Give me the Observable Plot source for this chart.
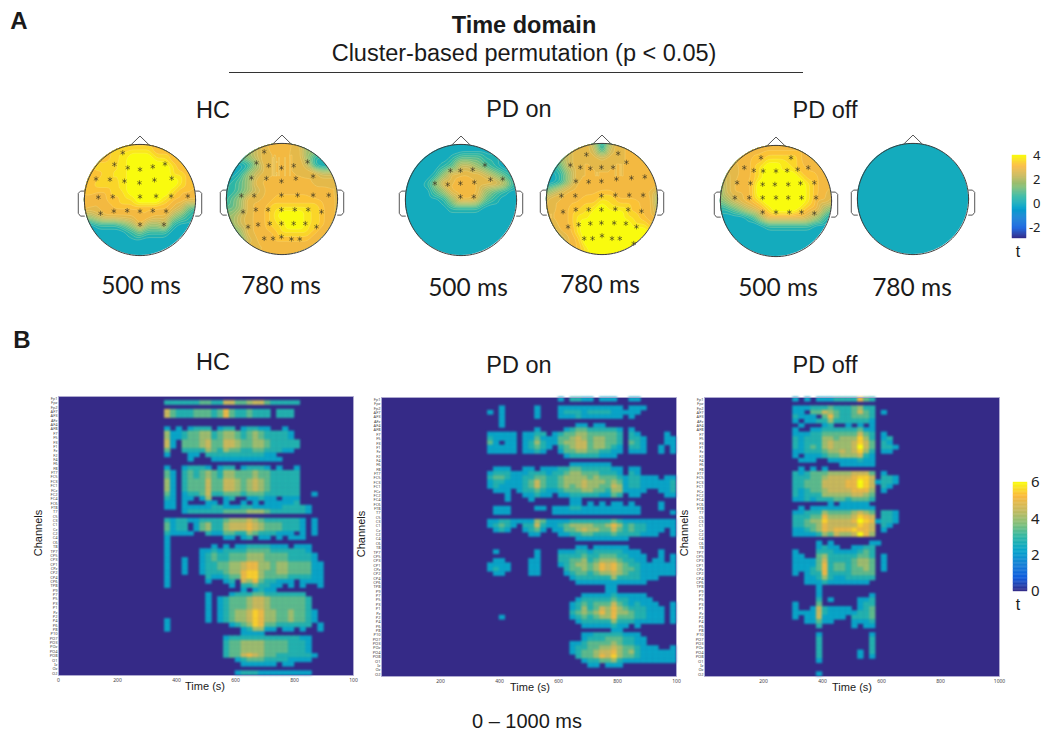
<!DOCTYPE html>
<html><head><meta charset="utf-8">
<script src="https://cdn.jsdelivr.net/npm/d3@7"></script>
<script src="https://cdn.jsdelivr.net/npm/@observablehq/plot@0.6"></script>
<style>
html,body{margin:0;padding:0;background:#fff;}
#page{position:relative;width:1041px;height:733px;overflow:hidden;font-family:"Liberation Sans",Arial,sans-serif;color:#1a1a1a;}
.abs{position:absolute;width:max-content;}
.lab{position:absolute;transform:translate(-50%,-50%);white-space:nowrap;line-height:1;}
svg{display:block;overflow:visible;background:transparent;max-width:none!important;}
</style></head><body><div id="page"></div>
<script>
// ---------- shared colour scale (parula) ----------
const parulaStops = [0,.125,.25,.375,.5,.625,.75,.875,1];
const parula = ["#352a87","#0f5cdd","#1481d6","#06a4ca","#2eb7a4","#87bf77","#c8b95c","#fbb93c","#f9fb0e"];

// ---------- B: channels (top to bottom) ----------
const channels = ["Fp1","Fpz","Fp2","AF7","AF3","AFz","AF4","AF8","F7","F5","F3","F1","Fz","F2","F4","F6","F8",
"FT7","FC5","FC3","FC1","FCz","FC2","FC4","FC6","FT8","T7","C5","C3","C1","Cz","C2","C4","C6","T8",
"TP7","CP5","CP3","CP1","CPz","CP2","CP4","CP6","TP8","P9","P7","P5","P3","P1","Pz","P2","P4","P6","P8","P10",
"PO7","PO3","POz","PO4","PO8","O1","Iz","Oz","O2"];
// level digit -> t value
const tLevels = {"0":0,"3":2.3,"4":2.8,"5":3.4,"6":4,"7":4.5,"8":5,"9":5.5,"a":6};
const binMs = 20;

// rows are "offset:digits", offset = leading empty bins; "" = an empty channel
const hcStart = 360;
const hcRows = ["",
"44444455447755677544444","",
"75444555458544544404440","75444555458544544404440","","",
"303034440344034433003",
"6334556645665456544443","6334556645665456544443",
"73055567557765566544444","73055567557765566544444",
"5004444654655445544433",
"3000330444444444433",
"4:3000333333333333","",
"30034443034403444303003",
"53045456546655565544444","53045456546655565544444",
"63045557557765676544444","63045557557765676544444","63045557557765676544444",
"53034457445554555444444003",
"43033036003400334330333",
"33030003303003030333334",
"3303333344333443333344443",
"3:3444444555566654444443","",
"43443344445666765444444303",
"53440356446777876555444303","53440356446777876555444303",
"43333004335544654443330303",
"300000000033034033030333",
"3",
"3000000030303344443330333",
"3000003343444455554444443",
"30000034544555666555544443",
"30030034544555666555544443",
"300300344556678866566555533","300300344556678866566555533",
"300300344456689965566555533",
"300000043345589965555444433",
"300000030034076854433303333",
"300000000003044544330303003",
"13:303433",
"7:30003444554444444",
"7:303455567765555554","7:303455567765555554","7:303455567765555554",
"7:3034566798665565543","7:3034566798665565543",
"30000003034566798665565543",
"300000000003456985544444403",
"300000000000034663303303003",
"13:3333",
"10:344444444444433",
"10:455666655554443","10:455666655554443","10:455666655554443",
"10:4557876554444443",
"12:3455544443333",
"13:333333033","",
"12:3444333333333"];

const onStart = 360;
const onRows = [
"12:30443303330033","",
"003000003000333333333330333",
"30300000300034443444433333",
"0030000030003334333333303",
"003",
"00300000000000033033",
"8:30000345544444303",
"3333303344034556655555404300003",
"43333033533355676566554044300033",
"53033034643356677566554054300033",
"33333034543045677566543044300303",
"33333033430035566554433033300303",
"13:344444333","",
"14:3333333",
"03330033033344554444433033",
"34443334443445665554443043",
"45543344554456666565554344333033",
"34433345754456667666565344333334",
"34333345754456567665576344333334",
"03330344543345556655466333300334",
"00030033433033444443354033000033",
"00030003000000330",
"14:3303030330300003",
"033300003303334433333333330003",
"03330000000333333333333333000003","",
"33443333653333444444454333333333",
"34543044743345666655686454433333",
"03430034530335567665575454433303",
"7:3300033445544454444333003",
"15:333333333","",
"15:330333333",
"030000003000333443444443330003",
"8:300044445445554433300303",
"03300003300044556456665443303303",
"33330003300034566568786544333333",
"34330003300004556568786554333333",
"03300003300003455456676544333333",
"14:344444464444333",
"15:333333333333",
"20:33","20:33",
"16:33333433333",
"15:3444445443333",
"14:345455575434333003",
"14:346457686544433303",
"14:456568686654433303",
"00300000000000345456685554433303",
"15:34444464443333303",
"16:3333343303",
"21:33",
"16:3344444333",
"16:34445554433",
"14:3345555654433",
"14:344556676554333003",
"14:345567786564333333",
"15:45568796554333333",
"16:3445564333333333",
"17:330333","",""];

const offStart = 300;
const offRows = [
"303033344448540","",
"33344454445644",
"3305576544575403",
"43330585445554",
"30334464444443",
"03000340030303",
"30033444444533",
"3334455555575403",
"43444665666964034",
"43444676667975043",
"43454676667a750443",
"33444566767964033",
"30333455666743",
"03330033333433",
"8:333333",
"030303",
"4345556666777503",
"444556777789970443",
"44555777788a973443",
"44555777788a97043",
"4345567777888603",
"43444666667765",
"33434445545554",
"00000030333330",
"03033333333333",
"334446555567650443",
"444558666679870443",
"44566977778a983443",
"44556877777987043",
"3345687888988703",
"33334657667a86",
"",
"4:30300000033",
"4:3433003344",
"30004443333454",
"3300564444455403",
"3333574444566503",
"3333584554566503",
"3334584554556503",
"30344844445555",
"00334643344444",
"00333433333330",
"00003",
"00003",
"00003000000003",
"00004030000334",
"30005000000344",
"30037433330345",
"33337433333445",
"30337333304445",
"00335330003334",
"00004000003033",
"",
"00003000000003",
"00004000000004","00004000000004","00004000000004",
"00004000000304",
"00004000000303",
"00003",
"","",
"00003"];

// ---------- A: scalp maps, 15 x 15 grids, one digit per level ----------
const hc500 = ["666666666666666","666677777666666","666677888776666","667777888887666","666777888887766","667777888888766","666677888887666",
"665667788876655","655666666665421","434555566553210","001112353341000","000000121110000","000000000000000","000000000000000","000000000000000"];
const hc780 = ["333345666432222","223345555533333","112345555531123","000135555541013","001345555555444","112355555555555","112345666665555",
"123555666666655","223556777777655","334556788877655","334556778877655","113556677776555","112455666665555","555555555555555","555555555555555"];
const on500 = ["000000000000000","000000000000000","000000122211000","000001244321000","000013555543210","000135565555420","000023566532100",
"000001355421000","000000111100000","000000000000000","000000000000000","000000000000000","000000000000000","000000000000000","000000000000000"];
const on780 = ["333445303555555","333455414555555","223455545555555","112455555555555","001355555555655","001355555555665","234556666555554",
"455666677666652","555667787776653","555677888877655","555678888887766","335578888888877","113568888888888","235567888888888","235567888888888"];
const off500 = ["555555555555555","555566666665555","555566777765555","555567887766655","445567888876655","345668888887655","245568888887655",
"234567888887554","112345788876532","000013555554310","000000111111000","000000000000000","000000000000000","000000000000000","000000000000000"];
const off780 = Array(15).fill("000000000000000");

const hc500E = [[-.31,.85],[-.46,.64],[-.22,.58],[0,.55],[.23,.6],[.45,.65],[-.79,.38],[-.54,.37],[-.28,.34],[-.01,.31],[.26,.36],[.57,.39],[-.75,.05],[-.49,.06],[0,.06],[.29,.07],[.56,.07],[.86,.07],[-.71,-.24],[-.47,-.2],[-.23,-.19],[0,-.2],[.23,-.19],[.47,-.2],[0,-.44],[.43,-.44]];
const hc780E = [[-.32,.85],[-.46,.65],[-.24,.6],[-.01,.56],[.21,.6],[.46,.67],[-.55,.38],[-.28,.37],[-.01,.32],[.25,.37],[.56,.41],[-.73,.06],[-.5,.06],[-.01,.07],[.28,.07],[.56,.07],[.84,.07],[-.7,-.23],[-.47,-.19],[-.25,-.19],[-.01,-.19],[.23,-.19],[.47,-.19],[.71,-.23],[-.61,-.5],[-.43,-.46],[-.22,-.44],[-.01,-.44],[.21,-.44],[.42,-.44],[.62,-.5],[-.32,-.71],[-.16,-.71],[-.01,-.68],[.17,-.72],[.32,-.72]];
const on500E = [[-.19,.53],[-.01,.53],[.21,.55],[.43,.63],[-.47,.3],[-.24,.28],[-.01,.3],[.24,.32],[.53,.37],[.75,.38],[-.01,.06],[.23,.06]];
const on780E = [[-.28,.8],[.29,.82],[-.57,.61],[-.39,.57],[-.21,.55],[-.01,.57],[.2,.57],[.44,.66],[-.47,.32],[-.24,.31],[-.01,.32],[.26,.36],[.53,.38],[.77,.4],[-.73,.06],[-.48,.06],[-.01,.06],[.24,.07],[.49,.07],[.74,.07],[-.7,-.23],[-.47,-.19],[-.24,-.19],[-.01,-.19],[.24,-.18],[.47,-.19],[.71,-.22],[-.61,-.5],[-.42,-.46],[-.21,-.44],[-.01,-.43],[.22,-.43],[.43,-.44],[.62,-.5],[-.32,-.71],[-.17,-.71],[0,-.66],[.18,-.71],[.32,-.71],[.57,-.8]];
const off500E = [[-.27,.78],[.27,.78],[-.57,.6],[-.4,.55],[-.23,.54],[0,.54],[.2,.55],[.39,.57],[.58,.6],[-.7,.33],[-.46,.32],[-.24,.3],[-.02,.3],[.22,.3],[.44,.32],[.69,.33],[-.74,.06],[-.48,.06],[-.24,.06],[0,.06],[.22,.06],[.46,.06],[.72,.06],[-.24,-.2],[0,-.2],[.24,-.2],[.46,-.2],[.69,-.22]];
const off780E = [];

// head outline pieces in head units
const nose = [[-.17,.985],[0,1.15],[.17,.985]];
const earL = [[-1,.16],[-1.07,.16],[-1.11,.12],[-1.11,-.24],[-1.07,-.29],[-1,-.29]];
const earR = earL.map(([x,y])=>[-x,y]);
const rim = d3.range(0,361,3).map(a=>[Math.cos(a*Math.PI/180),Math.sin(a*Math.PI/180)]);

const page = document.getElementById("page");
function place(node,left,top){const d=document.createElement("div");d.className="abs";d.style.left=left+"px";d.style.top=top+"px";d.appendChild(node);page.appendChild(d);}
function label(text,x,y,size,opts={}){const s=document.createElement("div");s.className="lab";s.textContent=text;s.style.left=x+"px";s.style.top=y+"px";s.style.fontSize=size+"px";
 if(opts.font)s.style.fontFamily=opts.font; if(opts.weight)s.style.fontWeight=opts.weight;
 if(opts.rotate)s.style.transform="translate(-50%,-50%) rotate(-90deg)"; page.appendChild(s);}

// ---------- topomap ----------
const topoStops = parulaStops.map(s=>-2.9+s*6.9);
const digitScale = [0,.5,1.1,1.8,2.5,3,3.25,3.75,4.4];
const thresholds = [-.01,.25,.5,.75,1,1.25,1.5,1.75,2,2.25,2.5,2.75,3,3.25,3.5,3.75,4];
function topo(grid,electrodes,cx,cy){
  const r=55.5,S=Math.round(2.5*r);
  const points=grid.flatMap((row,j)=>[...row].map((c,i)=>({x:-1.05+i*.15,y:1.05-j*.15,v:digitScale[+c]})));
  const fig=Plot.plot({width:S,height:S,margin:0,
    x:{domain:[-1.25,1.25],axis:null},y:{domain:[-1.25,1.25],axis:null},
    color:{type:"linear",domain:topoStops,range:parula,clamp:true},
    marks:[
      Plot.contour(points,{x:"x",y:"y",fill:"v",interpolate:"barycentric",blur:1.5,pixelSize:1,thresholds,stroke:"#fff6a8",strokeOpacity:.45,strokeWidth:.5}),
      Plot.dot(electrodes,{x:d=>d[0],y:d=>d[1],symbol:"asterisk",r:2.4,stroke:"#3b3524",strokeWidth:.8,strokeOpacity:.75}),
      Plot.line(rim,{x:d=>d[0],y:d=>d[1],stroke:"#3a3a3a",strokeWidth:1}),
      Plot.line(nose,{x:d=>d[0],y:d=>d[1],stroke:"#555",strokeWidth:1}),
      Plot.line(earL,{x:d=>d[0],y:d=>d[1],stroke:"#555",strokeWidth:1}),
      Plot.line(earR,{x:d=>d[0],y:d=>d[1],stroke:"#555",strokeWidth:1})
    ]});
  const sx=fig.scale("x"),sy=fig.scale("y");
  const id="clip"+Math.round(cx);
  const ns="http://www.w3.org/2000/svg";
  const cp=document.createElementNS(ns,"clipPath");cp.setAttribute("id",id);
  const c=document.createElementNS(ns,"circle");c.setAttribute("cx",sx.apply(0));c.setAttribute("cy",sy.apply(0));c.setAttribute("r",sx.apply(1)-sx.apply(0));
  cp.appendChild(c);fig.insertBefore(cp,fig.firstChild);
  const g=fig.querySelector('g[aria-label="contour"]');
  const wrap=document.createElementNS(ns,"g");wrap.setAttribute("clip-path",`url(#${id})`);
  g.parentNode.insertBefore(wrap,g);wrap.appendChild(g);
  fig.style.filter="blur(0.45px)";
  place(fig,cx-S/2,cy-S/2);
}
topo(hc500,hc500E,139,199);
topo(hc780,hc780E,281,198.5);
topo(on500,on500E,460,199.5);
topo(on780,on780E,601.5,198);
topo(off500,off500E,775,200.5);
topo(off780,off780E,912.5,198.5);

// ---------- heatmap ----------
const heatStops = parulaStops.map(s=>s*6);
function heat(rows,start,ticks,tickLabels,left,top){
  const cells=[];
  rows.forEach((row,i)=>{
    const [off,digits]=row.includes(":")?row.split(":"):["0",row];
    [...digits].forEach((d,j)=>{
      const t=tLevels[d]||0; if(!t)return;
      const x1=start+(+off+j)*binMs;
      cells.push({channel:channels[i],x1,x2:x1+binMs,t});
    });
  });
  const mL=14,W=295,H=279;
  const fig=Plot.plot({width:W+mL+2,height:H+14,marginLeft:mL,marginRight:2,marginTop:1,marginBottom:13,
    x:{domain:[0,1000]},y:{domain:channels,padding:0,round:false},
    color:{type:"linear",domain:heatStops,range:parula,clamp:true},
    marks:[
      Plot.frame({fill:parula[0]}),
      Plot.barX(cells,{x1:"x1",x2:"x2",y:"channel",fill:"t",stroke:"t",strokeWidth:.4}),
      Plot.frame({stroke:"#b3aed4",strokeWidth:.8}),
      Plot.axisX({ticks,tickFormat:d=>tickLabels[ticks.indexOf(d)],tickSize:0,tickPadding:3,fontSize:5,label:null,fill:"#444"}),
      Plot.axisY({tickSize:0,tickPadding:1,fontSize:4,label:null,fill:"#444"})
    ]});
  fig.querySelector('g[aria-label="bar"]').style.filter="blur(0.9px)";
  place(fig,left-mL,top-1);
}
heat(hcRows,hcStart,[0,200,400,600,800,1000],["0","200","400","600","800","100"],57.5,396);
heat(onRows,onStart,[200,400,600,800,1000],["200","400","600","800","100"],381,396.5);
heat(offRows,offStart,[200,400,600,800,1000],["200","400","600","800","1000"],704,397);

// ---------- colour bars ----------
function bar(domain,stops,ticks,left,top,h,w,tx,fs){
  const [lo,hi]=domain;const n=80;
  const levels=d3.range(n).map(i=>({y1:lo+(hi-lo)*i/n,y2:lo+(hi-lo)*(i+1)/n}));
  const fig=Plot.plot({width:w+tx+2,height:h+16,marginLeft:0,marginRight:tx+2,marginTop:8,marginBottom:8,
    x:{domain:[0,1],axis:null},y:{domain},
    color:{type:"linear",domain:stops,range:parula,clamp:true},
    marks:[
      Plot.rect(levels,{x1:0,x2:1,y1:"y1",y2:"y2",fill:d=>(d.y1+d.y2)/2,stroke:d=>(d.y1+d.y2)/2,strokeWidth:.4}),
      Plot.axisY({anchor:"right",ticks,tickSize:0,tickPadding:3,fontSize:fs,textAnchor:"end",dx:tx-3,label:null,tickFormat:d=>String(d),fill:"#222"})
    ]});
  fig.querySelector('g[aria-label="rect"]').style.filter="blur(0.5px)";
  place(fig,left,top-8);
}
bar([-2.9,4],topoStops,[-2,0,2,4],1012,155,83,14,14,13);
bar([0,6],heatStops,[0,2,4,6],1013,482,109,14,12,15);
label("t",1018,252,16);
label("t",1018,605,16);

// ---------- text ----------
label("A",19,21,24,{weight:"bold"});
label("B",22,340,24,{weight:"bold"});
label("Time domain",524,26,23.5,{weight:"bold"});
label("Cluster-based permutation (p < 0.05)",524,54,23.5);
const rule=document.createElement("div");rule.className="abs";rule.style.cssText="left:229px;top:71.5px;width:574px;height:1px;background:#333";page.appendChild(rule);
[["HC",213,111],["PD on",519,110],["PD off",825,111]].forEach(([t,x,y])=>label(t,x,y,23.5));
[["500 ms",141,285],["780 ms",281,285],["500 ms",468,287],["780 ms",600,284],["500 ms",778,287],["780 ms",912,287]].forEach(([t,x,y])=>label(t,x,y,24.5,{font:"Lato"}));
[["HC",213,363],["PD on",519,366],["PD off",825,366]].forEach(([t,x,y])=>label(t,x,y,23.5));
[[38,533],[361,534],[684,533]].forEach(([x,y])=>label("Channels",x,y,11,{rotate:true}));
[[205,686],[530,687],[852,687]].forEach(([x,y])=>label("Time (s)",x,y,11));
label("0 – 1000 ms",527,721,20);
</script></body></html>
